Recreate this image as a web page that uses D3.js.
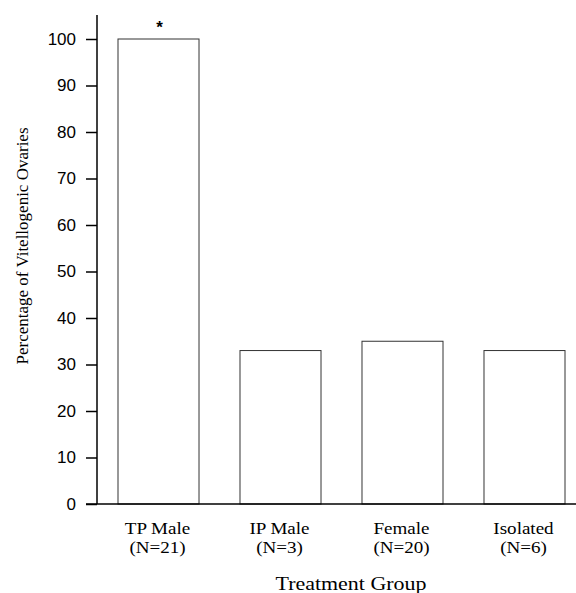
<!DOCTYPE html>
<html>
<head>
<meta charset="utf-8">
<script src="https://cdn.jsdelivr.net/npm/d3@7"></script>
<style>
  body { margin: 0; background: #fff; }
</style>
</head>
<body>
<div id="chart"></div>
<script>
// chart values
let groups = ["TP Male", "IP Male", "Female", "Isolated"]
let sampleSizes = ["(N=21)", "(N=3)", "(N=20)", "(N=6)"]
let percentVitellogenic = [100, 33, 35, 33]
let significant = [true, false, false, false]
let yTicks = [0, 10, 20, 30, 40, 50, 60, 70, 80, 90, 100]

let svg = d3.select("#chart").append("svg")
svg.attr("width", 576).attr("height", 593)

let axisX = 97
let y = d3.scaleLinear().domain([0, 100]).range([504, 39])
let x = d3.scaleBand().domain(groups).range([118, 565]).paddingInner(0.336).paddingOuter(0)

let serif = "'Liberation Serif', 'Times New Roman', serif"
let sans = "'Liberation Sans', Arial, sans-serif"

// the scanned figure's text is a bit wider than the fonts here, so stretch it
function wideText(cx, cy, size, sx, str) {
  svg.append("g").attr("transform", "translate(" + cx + "," + cy + ") scale(" + sx + ",1)")
    .append("text").attr("text-anchor", "middle").attr("font-family", serif)
    .attr("font-size", size).attr("fill", "#000").text(str)
}

// bars
groups.forEach(function (g, i) {
  let cx = x(g) + x.bandwidth() / 2
  svg.append("rect")
    .attr("x", x(g)).attr("y", y(percentVitellogenic[i]))
    .attr("width", x.bandwidth()).attr("height", y(0) - y(percentVitellogenic[i]))
    .attr("fill", "none").attr("stroke", "#333").attr("stroke-width", 1)
  if (significant[i]) {
    svg.append("text").attr("x", cx + 1).attr("y", y(percentVitellogenic[i]) - 6)
      .attr("text-anchor", "middle").attr("font-family", sans).attr("font-size", 17)
      .attr("font-weight", "bold").text("*")
  }
  wideText(cx - 1, 534, 16, 1.19, g)
  wideText(cx - 1, 553, 16, 1.19, sampleSizes[i])
})

// y axis
let yAxis = d3.axisLeft(y).tickValues(yTicks).tickSize(11).tickPadding(10)
let ga = svg.append("g").attr("transform", "translate(" + axisX + ",0)").call(yAxis)
ga.select(".domain").remove()
ga.selectAll(".tick line").attr("stroke", "#000").attr("stroke-width", 1.5)
ga.selectAll(".tick text").attr("font-family", sans).attr("font-size", 17).attr("fill", "#000")
svg.append("line").attr("x1", axisX).attr("x2", axisX).attr("y1", 15).attr("y2", y(0))
  .attr("stroke", "#000").attr("stroke-width", 1.5)

// x axis baseline
svg.append("line").attr("x1", axisX - 11).attr("x2", 576).attr("y1", y(0)).attr("y2", y(0))
  .attr("stroke", "#000").attr("stroke-width", 1.5)

// axis titles
wideText(351, 590, 18, 1.22, "Treatment Group")
svg.append("text").attr("transform", "translate(28,246) rotate(-90)").attr("text-anchor", "middle")
  .attr("font-family", serif).attr("font-size", 17).text("Percentage of Vitellogenic Ovaries")
</script>
</body>
</html>
